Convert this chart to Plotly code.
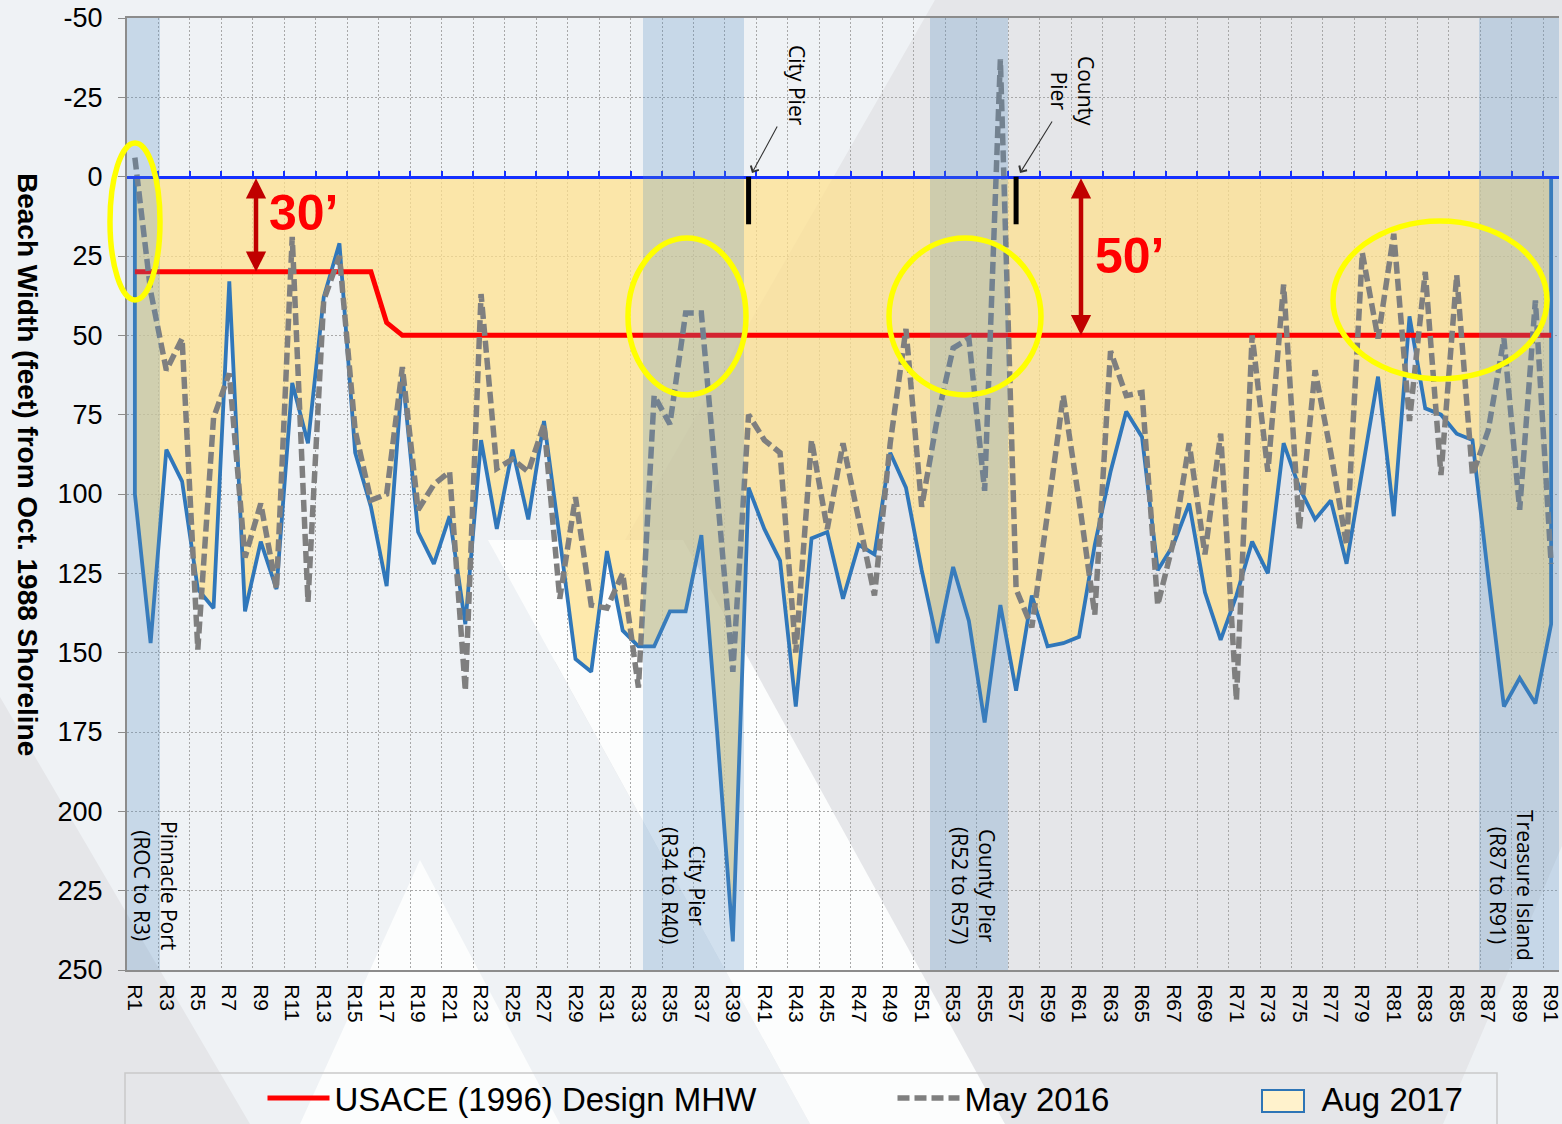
import plotly.graph_objects as go

# ---------------- data ----------------
stations = ["R%d" % i for i in range(1, 92)]

aug_2017 = [100, 147, 86, 96, 130, 136, 33, 137, 115, 130,
            65, 84, 38, 21, 87, 104, 129, 62, 112, 122,
            107, 141, 83, 111, 86, 108, 77, 114, 152, 156,
            118, 143, 148, 148, 137, 137, 113, 175, 241, 98,
            111, 121, 167, 114, 112, 133, 116, 119, 87, 98,
            124, 147, 123, 140, 172, 135, 162, 132, 148, 147,
            145, 116, 93, 74, 82, 124, 116, 103, 131, 146,
            132, 115, 125, 84, 98, 108, 102, 122, 93, 63,
            107, 44, 73, 75, 81, 83, 126, 167, 158, 166,
            141]

may_2016 = [-6, 36, 61, 51, 149, 76, 62, 120, 103, 130,
            19, 134, 39, 25, 80, 102, 100, 60, 105, 97,
            93, 162, 37, 92, 89, 93, 78, 133, 101, 135,
            136, 125, 161, 69, 78, 43, 43, 100, 156, 75,
            83, 87, 150, 83, 111, 84, 108, 132, 84, 48,
            104, 76, 54, 51, 99, -37, 130, 142, 106, 69,
            102, 138, 55, 69, 68, 135, 115, 84, 119, 81,
            165, 50, 93, 34, 111, 61, 87, 116, 24, 51,
            18, 77, 30, 94, 31, 94, 80, 51, 105, 39,
            122]

design_mhw = [30, 30, 30, 30, 30, 30, 30, 30, 30, 30,
              30, 30, 30, 30, 30, 30, 46, 50, 50, 50,
              50, 50, 50, 50, 50, 50, 50, 50, 50, 50,
              50, 50, 50, 50, 50, 50, 50, 50, 50, 50,
              50, 50, 50, 50, 50, 50, 50, 50, 50, 50,
              50, 50, 50, 50, 50, 50, 50, 50, 50, 50,
              50, 50, 50, 50, 50, 50, 50, 50, 50, 50,
              50, 50, 50, 50, 50, 50, 50, 50, 50, 50,
              50, 50, 50, 50, 50, 50, 50, 50, 50, 50,
              50]

y_ticks = [-50, -25, 0, 25, 50, 75, 100, 125, 150, 175, 200, 225, 250]

band_labels = [("Pinnacle Port", "(ROC to R3)"),
               ("City Pier", "(R34 to R40)"),
               ("County Pier", "(R52 to R57)"),
               ("Treasure Island", "(R87 to R91)")]
pier_stations = ["R40", "R57"]

# ---------------- layout helpers ----------------
W, H = 1562, 1124
L, T, R, B = 127, 18, 1559, 970
xi = list(range(len(stations)))
pos = {s: i for i, s in enumerate(stations)}
x_lo, x_hi = -0.5, len(stations) - 0.5
y_lo, y_hi = 250, -50


def pxx(p):
    return (p - L) / (R - L)


def pxy(p):
    return 1 - (p - T) / (B - T)


def idx_of_px(p):
    return x_lo + (p - L) / (R - L) * (x_hi - x_lo)


def val_of_py(p):
    return y_hi + (p - T) / (B - T) * (y_lo - y_hi)


def poly(points):
    return "M " + " L ".join("%.4f,%.4f" % (pxx(a), pxy(b)) for a, b in points) + " Z"


FONT = "Liberation Sans, Arial, sans-serif"
FONT2 = "Open Sans, sans-serif"
LEG_FONT = dict(size=33, family=FONT, color="#000000")

fig = go.Figure()

# Aug 2017 area (filled to the zero line, outlined in blue)
fig.add_trace(go.Scatter(
    x=[xi[0]] + xi + [xi[-1]], y=[0] + aug_2017 + [0],
    mode="lines", fill="toself", fillcolor="rgba(255,224,140,0.72)",
    line=dict(color="#3077BA", width=3.8), name="Aug 2017",
    showlegend=False, hoverinfo="skip"))

fig.add_trace(go.Scatter(
    x=xi, y=design_mhw, mode="lines",
    line=dict(color="#FF0000", width=5), name="USACE (1996) Design MHW",
    legend="legend", hoverinfo="skip"))

fig.add_trace(go.Scatter(
    x=xi, y=may_2016, mode="lines",
    line=dict(color="#7F7F7F", width=5.5, dash="12px,5px"), name="May 2016",
    legend="legend2", hoverinfo="skip"))

# legend entry for the Aug 2017 area (its swatch is drawn as a framed box)
fig.add_trace(go.Scatter(x=[None], y=[None], mode="lines", line=dict(width=0, color="rgba(0,0,0,0)"),
                         name="Aug 2017", legend="legend3", hoverinfo="skip"))

# helper trace for the zero-line axis
fig.add_trace(go.Scatter(x=[xi[0]], y=[aug_2017[0]], xaxis="x2", mode="markers",
                         marker=dict(opacity=0), showlegend=False, hoverinfo="skip"))

grid_pos = [i + 1.5 for i in range(0, len(stations) - 1, 2)]

fig.update_layout(
    width=W, height=H,
    margin=dict(l=L, r=W - R, t=T, b=H - B, autoexpand=False),
    paper_bgcolor="#E5E6E9", plot_bgcolor="rgba(0,0,0,0)",
    font=dict(family=FONT, color="#000000"),
    xaxis=dict(range=[x_lo, x_hi], tickmode="array", tickvals=xi[::2],
               ticktext=stations[::2], tickangle=90, ticklabeloverflow="allow",
               tickfont=dict(size=21, color="#000000", family=FONT),
               showgrid=False, zeroline=False, showline=True, mirror=True,
               linecolor="#8C8C8C", linewidth=2, ticks="", ticklabelstandoff=8,
               minor=dict(tickmode="array", tickvals=grid_pos, showgrid=True,
                          gridcolor="#A8A8A8", gridwidth=1.2, griddash="2px,2px",
                          ticks="")),
    xaxis2=dict(overlaying="x", anchor="free",
                position=(0 - y_lo) / (y_hi - y_lo), side="top",
                range=[x_lo, x_hi], tickmode="array", tickvals=grid_pos,
                ticks="outside", ticklen=5, tickwidth=2, tickcolor="#1530FF",
                showticklabels=False, showline=True, linecolor="#1530FF",
                linewidth=3, showgrid=False, zeroline=False),
    yaxis=dict(range=[y_lo, y_hi], tickmode="array", tickvals=y_ticks,
               ticktext=[str(v) for v in y_ticks],
               tickfont=dict(size=27, color="#000000", family=FONT),
               showgrid=True, gridcolor="#A8A8A8", gridwidth=1.2,
               griddash="2px,2px", zeroline=False, showline=True,
               linecolor="#8C8C8C", linewidth=2, ticks="outside", ticklen=7,
               tickcolor="#8C8C8C", ticklabelstandoff=10),
    legend=dict(orientation="h", x=pxx(262.5), y=pxy(1070), xanchor="left", yanchor="top",
                bgcolor="rgba(0,0,0,0)", borderwidth=0, itemwidth=62, font=LEG_FONT),
    legend2=dict(orientation="h", x=pxx(892.5), y=pxy(1070), xanchor="left", yanchor="top",
                 bgcolor="rgba(0,0,0,0)", borderwidth=0, itemwidth=62, font=LEG_FONT),
    legend3=dict(orientation="h", x=pxx(1259.5), y=pxy(1070), xanchor="left", yanchor="top",
                 bgcolor="rgba(0,0,0,0)", borderwidth=0, itemwidth=52, font=LEG_FONT),
    showlegend=True,
)

shapes = []
# decorative slide background
for pts, col in [
    ([(0, 0), (935, 0), (555, 662), (810, 1124), (250, 1124), (0, 697)], "#EFF2F5"),
    ([(488, 540), (683, 540), (1005, 1124), (810, 1124)], "#FCFDFD"),
    ([(420, 860), (300, 1124), (560, 1124)], "#FCFDFD"),
    ([(1562, 846), (1562, 1124), (1443, 1124)], "#EEF1F4"),
]:
    shapes.append(dict(type="path", path=poly(pts), xref="paper", yref="paper",
                       fillcolor=col, line=dict(width=0), layer="below"))

# legend frame and Aug 2017 swatch
shapes.append(dict(type="rect", xref="paper", yref="paper", x0=pxx(125), x1=pxx(1497),
                   y0=pxy(1140), y1=pxy(1073), line=dict(color="#C9C9C9", width=1.5),
                   fillcolor="rgba(0,0,0,0)", layer="below"))
shapes.append(dict(type="rect", xref="paper", yref="paper", x0=pxx(1262), x1=pxx(1304),
                   y0=pxy(1112), y1=pxy(1090), line=dict(color="#2E75B6", width=2),
                   fillcolor="#FFF2CC", layer="above"))

# shaded reaches (semi-transparent blue)
band_px = [(127, 160), (643, 744), (930, 1008), (1479, 1559)]
for a, b in band_px:
    shapes.append(dict(type="rect", xref="x", yref="paper", x0=idx_of_px(a), x1=idx_of_px(b),
                       y0=0, y1=1, fillcolor="rgba(79,139,195,0.25)",
                       line=dict(width=0), layer="above"))

# pier markers
for s in pier_stations:
    shapes.append(dict(type="line", xref="x", yref="y", x0=pos[s], x1=pos[s], y0=0, y1=15,
                       line=dict(color="#000000", width=5), layer="above"))

# yellow highlight ellipses
for x0, x1, y0, y1 in [(110, 160, 143, 300), (628, 746, 238, 395),
                       (889, 1041, 238, 395), (1333, 1547, 221, 379)]:
    shapes.append(dict(type="circle", xref="paper", yref="paper",
                       x0=pxx(x0), x1=pxx(x1), y0=pxy(y1), y1=pxy(y0),
                       line=dict(color="#FFFF00", width=5.5), layer="above"))

fig.update_layout(shapes=shapes)

ann = []
# y-axis title (reads top to bottom)
ann.append(dict(text="<b>Beach Width (feet) from Oct. 1988 Shoreline</b>", xref="paper", yref="paper",
                x=pxx(28), y=pxy(464), xanchor="center", yanchor="middle",
                textangle=90, showarrow=False,
                font=dict(size=28, family=FONT, color="#000000")))

# reach labels
band_centers_px = [156, 684, 974, 1512]
for (l1, l2), cx in zip(band_labels, band_centers_px):
    ann.append(dict(text=l1 + "<br>" + l2, xref="x", yref="y", x=idx_of_px(cx),
                    y=val_of_py(885), textangle=90, showarrow=False,
                    font=dict(size=21, family=FONT2, color="#000000")))

# pier labels and arrows
ann.append(dict(text="City Pier", xref="x", yref="y", x=idx_of_px(797), y=val_of_py(85),
                textangle=90, showarrow=False, font=dict(size=21, family=FONT2, color="#000000")))
ann.append(dict(text="County<br>Pier", xref="x", yref="y", x=idx_of_px(1073), y=val_of_py(91),
                textangle=90, showarrow=False, font=dict(size=21, family=FONT2, color="#000000")))
for (hx, hy), (tx, ty) in [((752, 173), (778, 125)), ((1020, 173), (1053, 120))]:
    ann.append(dict(text="", xref="x", yref="y", x=idx_of_px(hx), y=val_of_py(hy),
                    axref="x", ayref="y", ax=idx_of_px(tx), ay=val_of_py(ty),
                    showarrow=True, arrowhead=4, arrowsize=1.6, arrowwidth=1.1,
                    arrowcolor="#333333", standoff=0))

# design width arrows and labels
for ax_px, top_val, bot_val, lab, (lx, ly) in [(256, 0, design_mhw[0], "30\u2019", (304, 213)),
                                               (1081, 0, design_mhw[-1], "50\u2019", (1130, 256))]:
    ann.append(dict(text="", xref="x", yref="y", x=idx_of_px(ax_px), y=bot_val,
                    axref="x", ayref="y", ax=idx_of_px(ax_px), ay=top_val,
                    showarrow=True, arrowhead=2, startarrowhead=2, arrowside="end+start",
                    arrowsize=0.9, startarrowsize=0.9, arrowwidth=4.5,
                    arrowcolor="#C00000", standoff=0, startstandoff=0))
    ann.append(dict(text="<b>" + lab + "</b>", xref="x", yref="y", x=idx_of_px(lx),
                    y=val_of_py(ly), showarrow=False,
                    font=dict(size=50, family=FONT, color="#FF0000")))

fig.update_layout(annotations=ann)

fig.write_html("out.html", config={"displayModeBar": False},
               post_script="document.body.style.margin='0px';")
